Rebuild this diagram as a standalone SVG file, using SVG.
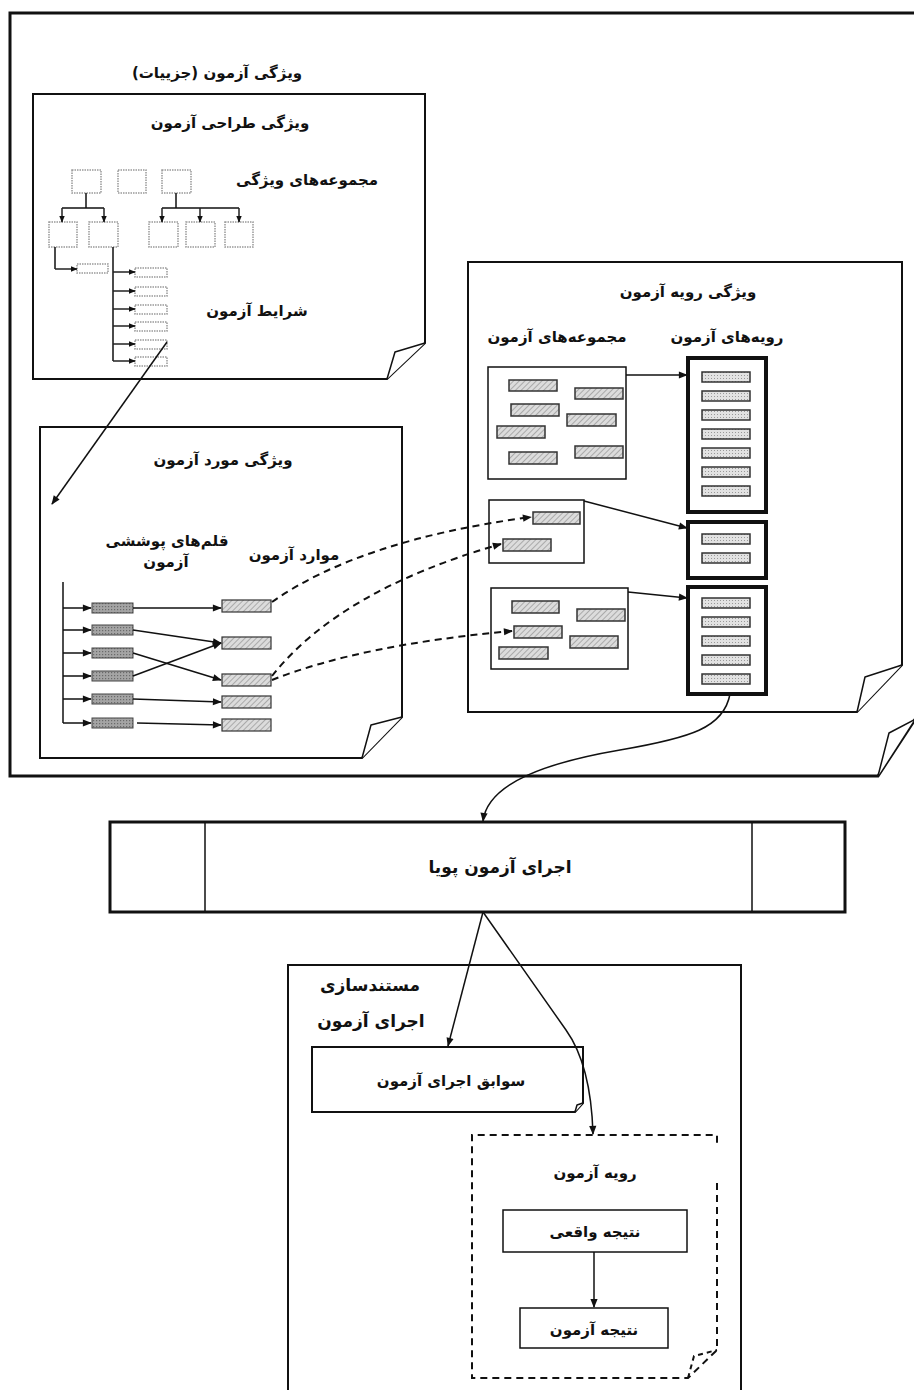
<svg xmlns="http://www.w3.org/2000/svg" width="914" height="1390" viewBox="0 0 914 1390">
<style>
.t{font-family:"DejaVu Sans",sans-serif;font-weight:bold;font-size:15px;fill:#111;text-anchor:middle;direction:rtl}
.big{font-size:17px}
.page{fill:#fff;stroke:#111;stroke-width:2}
.curl{fill:#fff;stroke:#111;stroke-width:1.5;stroke-linejoin:round}
.box{fill:#fff;stroke:#111;stroke-width:1.5}
.thick{fill:#fff;stroke:#111;stroke-width:4}
.dot{fill:#fff;stroke:#999;stroke-width:1.5;stroke-dasharray:1.5 1}
.ln{fill:none;stroke:#111;stroke-width:1.5}
.tl{fill:none;stroke:#222;stroke-width:1.5;marker-end:url(#ahs)}
.arr{fill:none;stroke:#111;stroke-width:1.5;marker-end:url(#ah)}
.dash{fill:none;stroke:#111;stroke-width:2;stroke-dasharray:7 5;marker-end:url(#ah)}
.cov{fill:url(#dark);stroke:#444;stroke-width:1}
.tc{fill:url(#hatch);stroke:#333;stroke-width:1.2}
.it{fill:url(#hatch);stroke:#333;stroke-width:1.5}
.pi{fill:url(#light);stroke:#333;stroke-width:1.5}
</style>
<defs>
<pattern id="hatch" width="4" height="4" patternUnits="userSpaceOnUse" patternTransform="rotate(45)"><rect width="4" height="4" fill="#dcdcdc"/><line x1="0" y1="0" x2="0" y2="4" stroke="#888" stroke-width="1.2"/></pattern>
<pattern id="dark" width="3" height="3" patternUnits="userSpaceOnUse"><rect width="3" height="3" fill="#a4a4a4"/><rect width="1.2" height="1.2" fill="#6a6a6a"/></pattern>
<pattern id="light" width="3" height="3" patternUnits="userSpaceOnUse"><rect width="3" height="3" fill="#e2e2e2"/><rect width="1" height="1" fill="#999"/></pattern>
<marker id="ah" viewBox="0 0 10 10" refX="9" refY="5" markerWidth="10" markerHeight="9" markerUnits="userSpaceOnUse" orient="auto"><path d="M0,1 L10,5 L0,9 Z" fill="#111"/></marker>
<marker id="ahs" viewBox="0 0 10 10" refX="9" refY="5" markerWidth="7" markerHeight="7" markerUnits="userSpaceOnUse" orient="auto"><path d="M0,1 L10,5 L0,9 Z" fill="#111"/></marker>
</defs>
<rect width="914" height="1390" fill="#fff"/>

<g id="test-spec-frame">
<path d="M916,13 H10 V776 H878 L916,718" fill="#fff" stroke="#111" stroke-width="3"/>
<path class="curl" d="M878,776 L889,733 L914,720" stroke-width="2.5"/>
<text class="t" x="217" y="78">ویژگی آزمون (جزییات)</text>
</g>

<g id="design-spec">
<path class="page" d="M33,94 H425 V343 L387,379 H33 Z"/>
<path class="curl" d="M387,379 L395,352 L425,343"/>
<text class="t" x="230" y="128">ویژگی طراحی آزمون</text>
<text class="t" x="307" y="185">مجموعه‌های ویژگی</text>
<text class="t" x="257" y="316">شرایط آزمون</text>
<rect class="dot" x="72" y="170" width="29" height="23"/>
<rect class="dot" x="118" y="170" width="28" height="23"/>
<rect class="dot" x="162" y="170" width="29" height="23"/>
<rect class="dot" x="49" y="222" width="28" height="25"/>
<rect class="dot" x="89" y="222" width="29" height="25"/>
<rect class="dot" x="149" y="222" width="29" height="25"/>
<rect class="dot" x="186" y="222" width="29" height="25"/>
<rect class="dot" x="225" y="222" width="28" height="25"/>
<rect class="dot" x="77" y="264" width="31" height="9"/>
<rect class="dot" x="135" y="268" width="32" height="9"/>
<rect class="dot" x="135" y="287" width="32" height="9"/>
<rect class="dot" x="135" y="305" width="32" height="9"/>
<rect class="dot" x="135" y="322" width="32" height="9"/>
<rect class="dot" x="135" y="340" width="32" height="9"/>
<rect class="dot" x="135" y="357" width="32" height="9"/>
<path class="ln" d="M86,193 V208 M62,208 H104 M176,193 V208 M162,208 H239 M55,247 V269 M113,247 V361"/>
<path class="tl" d="M62,208 V222"/>
<path class="tl" d="M104,208 V222"/>
<path class="tl" d="M162,208 V222"/>
<path class="tl" d="M200,208 V222"/>
<path class="tl" d="M239,208 V222"/>
<path class="tl" d="M55,269 H77"/>
<path class="tl" d="M113,272 H135"/>
<path class="tl" d="M113,291 H135"/>
<path class="tl" d="M113,309 H135"/>
<path class="tl" d="M113,326 H135"/>
<path class="tl" d="M113,344 H135"/>
<path class="tl" d="M113,361 H135"/>
</g>

<g id="case-spec">
<path class="page" d="M40,427 H402 V717 L362,758 H40 Z"/>
<path class="curl" d="M362,758 L371,725 L402,717"/>
<text class="t" x="223" y="465">ویژگی مورد آزمون</text>
<text class="t" x="167" y="546">قلم‌های پوششی</text>
<text class="t" x="166" y="567">آزمون</text>
<text class="t" x="294" y="560">موارد آزمون</text>
<path class="ln" d="M63,582 V723"/>
<path class="arr" d="M63,608 H91"/>
<path class="arr" d="M63,630 H91"/>
<path class="arr" d="M63,653 H91"/>
<path class="arr" d="M63,676 H91"/>
<path class="arr" d="M63,699 H91"/>
<path class="arr" d="M63,723 H91"/>
<rect class="cov" x="92" y="603" width="41" height="10"/>
<rect class="cov" x="92" y="625" width="41" height="10"/>
<rect class="cov" x="92" y="648" width="41" height="10"/>
<rect class="cov" x="92" y="671" width="41" height="10"/>
<rect class="cov" x="92" y="694" width="41" height="10"/>
<rect class="cov" x="92" y="718" width="41" height="10"/>
<rect class="tc" x="222" y="600" width="49" height="12"/>
<rect class="tc" x="222" y="637" width="49" height="12"/>
<rect class="tc" x="222" y="674" width="49" height="12"/>
<rect class="tc" x="222" y="696" width="49" height="12"/>
<rect class="tc" x="222" y="719" width="49" height="12"/>
</g>

<g id="procedure-spec">
<path class="page" d="M468,262 H902 V665 L857,712 H468 Z"/>
<path class="curl" d="M857,712 L865,677 L902,665"/>
<text class="t" x="688" y="297">ویژگی رویه آزمون</text>
<text class="t" x="557" y="342">مجموعه‌های آزمون</text>
<text class="t" x="727" y="342">رویه‌های آزمون</text>
<rect class="box" x="488" y="367" width="138" height="112"/>
<rect class="it" x="509" y="380" width="48" height="11"/>
<rect class="it" x="575" y="388" width="48" height="11"/>
<rect class="it" x="511" y="404" width="48" height="12"/>
<rect class="it" x="567" y="414" width="49" height="12"/>
<rect class="it" x="497" y="426" width="48" height="12"/>
<rect class="it" x="509" y="452" width="48" height="12"/>
<rect class="it" x="575" y="446" width="48" height="12"/>
<rect class="box" x="489" y="500" width="95" height="63"/>
<rect class="it" x="533" y="512" width="47" height="12"/>
<rect class="it" x="503" y="539" width="48" height="12"/>
<rect class="box" x="491" y="588" width="137" height="81"/>
<rect class="it" x="512" y="601" width="47" height="12"/>
<rect class="it" x="577" y="609" width="48" height="12"/>
<rect class="it" x="514" y="626" width="48" height="12"/>
<rect class="it" x="570" y="636" width="48" height="12"/>
<rect class="it" x="499" y="647" width="49" height="12"/>
<rect class="thick" x="688" y="358" width="78" height="154"/>
<rect class="pi" x="702" y="372" width="48" height="10"/>
<rect class="pi" x="702" y="391" width="48" height="10"/>
<rect class="pi" x="702" y="410" width="48" height="10"/>
<rect class="pi" x="702" y="429" width="48" height="10"/>
<rect class="pi" x="702" y="448" width="48" height="10"/>
<rect class="pi" x="702" y="467" width="48" height="10"/>
<rect class="pi" x="702" y="486" width="48" height="10"/>
<rect class="thick" x="688" y="522" width="78" height="56"/>
<rect class="pi" x="702" y="534" width="48" height="10"/>
<rect class="pi" x="702" y="553" width="48" height="10"/>
<rect class="thick" x="688" y="587" width="78" height="107"/>
<rect class="pi" x="702" y="598" width="48" height="10"/>
<rect class="pi" x="702" y="617" width="48" height="10"/>
<rect class="pi" x="702" y="636" width="48" height="10"/>
<rect class="pi" x="702" y="655" width="48" height="10"/>
<rect class="pi" x="702" y="674" width="48" height="10"/>
</g>

<g id="dynamic-execution">
<rect x="110" y="822" width="735" height="90" fill="#fff" stroke="#111" stroke-width="3"/>
<path class="ln" d="M205,823 V911 M752,823 V911" stroke-width="2"/>
<text class="t big" x="500" y="873">اجرای آزمون پویا</text>
</g>

<g id="execution-documentation">
<rect x="288" y="965" width="453" height="440" fill="#fff" stroke="#111" stroke-width="2"/>
<text class="t big" x="370" y="991">مستندسازی</text>
<text class="t big" x="371" y="1027">اجرای آزمون</text>
</g>

<g id="execution-records">
<path class="page" d="M312,1047 H583 V1103 L575,1112 H312 Z"/>
<path class="curl" d="M575,1112 L577,1105 L583,1103"/>
<text class="t" x="451" y="1086">سوابق اجرای آزمون</text>
</g>

<g id="test-procedure">
<path d="M717,1183 V1350 L688,1378 H472 V1135 H717 V1146" fill="none" stroke="#111" stroke-width="2" stroke-dasharray="7 5"/>
<path d="M688,1378 L694,1356 L717,1350" fill="none" stroke="#111" stroke-width="2" stroke-dasharray="5 4"/>
<text class="t" x="595" y="1178">رویه آزمون</text>
</g>

<g id="actual-result">
<rect class="box" x="503" y="1210" width="184" height="42"/>
<text class="t" x="595" y="1237">نتیجه واقعی</text>
</g>

<g id="test-result">
<rect class="box" x="520" y="1308" width="148" height="40"/>
<text class="t" x="594" y="1335">نتیجه آزمون</text>
</g>

<g id="connectors">
<path class="arr" d="M167,342 L52,504"/>
<path class="arr" d="M133,608 H221"/>
<path class="arr" d="M133,630 L221,643"/>
<path class="arr" d="M133,653 L221,680"/>
<path class="arr" d="M133,676 L221,643"/>
<path class="arr" d="M133,699 L221,702"/>
<path class="arr" d="M137,723 L221,725"/>
<path class="dash" d="M272,602 Q360,540 531,517"/>
<path class="dash" d="M272,676 Q340,590 501,544"/>
<path class="dash" d="M272,680 Q360,645 512,631"/>
<path class="arr" d="M626,375 H687"/>
<path class="arr" d="M584,501 L687,528"/>
<path class="arr" d="M628,592 L687,598"/>
<path class="arr" d="M730,694 C724,728 690,738 620,750 C550,762 488,782 483,821"/>
<path class="arr" d="M483,912 L448,1046"/>
<path class="arr" d="M483,912 L566,1030 Q591,1065 593,1134"/>
<path class="arr" d="M594,1252 V1307"/>
</g>
</svg>
